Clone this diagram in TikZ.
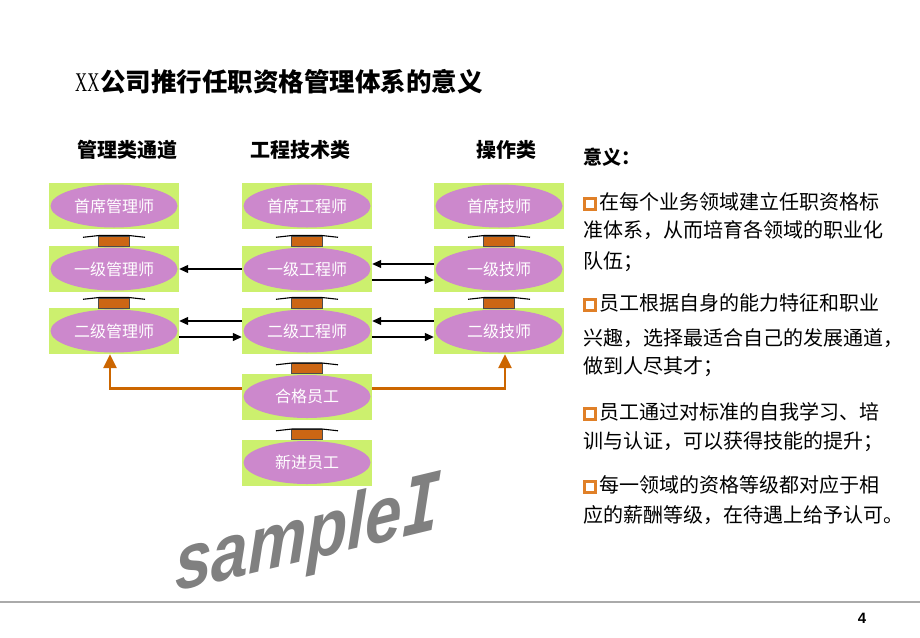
\documentclass[tikz,border=0pt]{standalone}
\usepackage{fontspec}
\usepackage{xcolor}
\usepackage{graphicx}
\usetikzlibrary{arrows.meta,calc}
\newfontfamily\cjk{Noto Sans CJK SC}
\newfontfamily\latinserif{Liberation Serif}
\newfontfamily\arialf{Liberation Sans}
\newfontfamily\dvmono{DejaVu Sans Mono}
\definecolor{boxgreen}{RGB}{204,240,110}
\definecolor{ellpink}{RGB}{204,136,204}
\definecolor{arrorange}{RGB}{204,102,0}
\definecolor{hatorange}{RGB}{204,102,20}
\definecolor{bulorange}{RGB}{224,128,40}
\definecolor{wmgray}{RGB}{128,128,128}
\definecolor{rulegray}{RGB}{170,170,170}
\newcommand\bul{\raisebox{1.5pt}{\setlength\fboxsep{0pt}\setlength\fboxrule{3pt}\fcolorbox{bulorange}{white}{\rule{0pt}{8pt}\rule{8pt}{0pt}}}\hspace{2pt}}
\newcommand\hatarrow[1]{%
  \draw[fill=hatorange, draw=black!70, line width=0.6pt] ($(#1.north)+(-15.5,0)$) rectangle ($(#1.north)+(15.5,-10)$);
  \draw[black, line width=1.1pt] ($(#1.north)+(-31,-8.5)$) -- ($(#1.north)+(-15,-10.3)$) -- ($(#1.north)+(15,-10.3)$) -- ($(#1.north)+(31,-8.5)$);
}
\tikzset{
 gbox/.style={rectangle, fill=boxgreen, minimum width=130pt, minimum height=46pt, inner sep=0pt, text=white,
   font=\cjk\fontsize{16}{18}\selectfont,
   path picture={\fill[ellpink] (path picture bounding box.center) ellipse [x radius=63.5pt, y radius=21.5pt];}},
 blk/.style={-{Triangle[length=9pt,width=8pt]}, line width=1.2pt, black},
 org/.style={-{Triangle[length=14pt,width=13pt]}, line width=2.5pt, arrorange},
 hdr/.style={inner sep=0pt, font=\cjk\bfseries\fontsize{20}{23}\selectfont},
 body/.style={anchor=west, inner sep=0pt, font=\cjk\fontsize{20}{24}\selectfont},
}
\begin{document}
\begin{tikzpicture}[x=1pt,y=-1pt]
\useasboundingbox (0,0) rectangle (920,637);
% title
\node[anchor=west, inner sep=0pt] (title) at (75,82) {{\latinserif\fontsize{27}{30}\selectfont\scalebox{0.62}[1]{XX}}\hspace{1pt}{\cjk\bfseries\fontsize{25.5}{28}\selectfont 公司推行任职资格管理体系的意义}};
% headers
\node[hdr] (h1) at (127,150) {管理类通道};
\node[hdr] (h2) at (300,150) {工程技术类};
\node[hdr] (h3) at (506,150) {操作类};
% boxes
\node[gbox] (l1) at (114,206) {首席管理师};
\node[gbox] (l2) at (114,269) {一级管理师};
\node[gbox] (l3) at (114,331) {二级管理师};
\node[gbox] (m1) at (307,206) {首席工程师};
\node[gbox] (m2) at (307,269) {一级工程师};
\node[gbox] (m3) at (307,331) {二级工程师};
\node[gbox] (m4) at (307,396.5) {合格员工};
\node[gbox] (m5) at (307,462.5) {新进员工};
\node[gbox] (r1) at (499,206) {首席技师};
\node[gbox] (r2) at (499,269) {一级技师};
\node[gbox] (r3) at (499,331) {二级技师};
% vertical hat arrows
\hatarrow{l2}\hatarrow{l3}
\hatarrow{m2}\hatarrow{m3}\hatarrow{m4}\hatarrow{m5}
\hatarrow{r2}\hatarrow{r3}
% horizontal arrows
\draw[blk] (m2.west) -- (l2.east);
\draw[blk] ($(r2.west)+(0,-5)$) -- ($(m2.east)+(0,-5)$);
\draw[blk] ($(m2.east)+(0,11)$) -- ($(r2.west)+(0,11)$);
\draw[blk] ($(m3.west)+(0,-10)$) -- ($(l3.east)+(0,-10)$);
\draw[blk] ($(l3.east)+(0,6)$) -- ($(m3.west)+(0,6)$);
\draw[blk] ($(r3.west)+(0,-10)$) -- ($(m3.east)+(0,-10)$);
\draw[blk] ($(m3.east)+(0,6)$) -- ($(r3.west)+(0,6)$);
% orange arrows
\draw[org] ($(m4.north west)+(0,15)$) -| ($(l3.south)+(-4,0)$);
\draw[org] ($(m4.north east)+(0,15)$) -| ($(r3.south)+(6,0)$);
% right text
\node[body, font=\cjk\bfseries\fontsize{19}{22}\selectfont] (t0) at (583,157) {意义：};
\node[body] (t1) at (583,202) {\bul 在每个业务领域建立任职资格标};
\node[body] (t2) at (583,230) {准体系，从而培育各领域的职业化};
\node[body] (t3) at (583,262) {队伍；};
\node[body] (t4) at (583,303) {\bul 员工根据自身的能力特征和职业};
\node[body] (t5) at (583,338) {兴趣，选择最适合自己的发展通道，};
\node[body] (t6) at (583,367) {做到人尽其才；};
\node[body] (t7) at (583,412) {\bul 员工通过对标准的自我学习、培};
\node[body] (t8) at (583,442) {训与认证，可以获得技能的提升；};
\node[body] (t9) at (583,485) {\bul 每一领域的资格等级都对应于相};
\node[body] (t10) at (583,515) {应的薪酬等级，在待遇上给予认可。};
% watermark
\node[anchor=base west, yslant=0.24, yscale=1.2, text=wmgray, inner sep=0pt, font=\bfseries\itshape\fontsize{66}{70}\selectfont] (wm) at (175,592) {{\arialf sample}{\dvmono I}};
% footer
\draw[rulegray, line width=1.5pt] (0,602) -- (920,602);
\node[inner sep=0pt, font=\arialf\bfseries\fontsize{15}{18}\selectfont] (pg) at (862,618) {4};
\end{tikzpicture}
\end{document}
